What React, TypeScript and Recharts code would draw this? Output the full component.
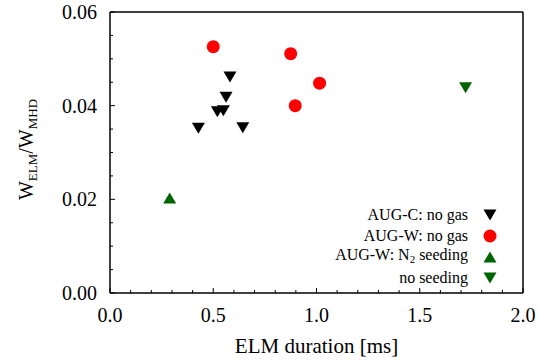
import React from 'react'
import { ScatterChart, Scatter, XAxis, YAxis, Legend, Label } from 'recharts'

// ELM duration [ms] vs W_ELM/W_MHD
const augCDuration = [0.581, 0.562, 0.52, 0.549, 0.428, 0.643]
const augCRatio = [0.0461, 0.0418, 0.0387, 0.0389, 0.0352, 0.0353]

const augWDuration = [0.5, 0.875, 1.015, 0.897]
const augWRatio = [0.0526, 0.0511, 0.0448, 0.04]

const n2SeedDuration = [0.289]
const n2SeedRatio = [0.0203]

const noSeedDuration = [1.722]
const noSeedRatio = [0.0438]

const xTicks = [0, 0.1, 0.2, 0.3, 0.4, 0.5, 0.6, 0.7, 0.8, 0.9, 1, 1.1, 1.2, 1.3, 1.4, 1.5, 1.6, 1.7, 1.8, 1.9, 2]
const xMajor = [0, 0.5, 1, 1.5, 2]
const yTicks = [0, 0.005, 0.01, 0.015, 0.02, 0.025, 0.03, 0.035, 0.04, 0.045, 0.05, 0.055, 0.06]
const yMajor = [0, 0.02, 0.04, 0.06]

const FONT = "'Liberation Serif', 'DejaVu Serif', serif"
const GREEN = '#006400'

const toPoints = (xs: number[], ys: number[]) => xs.map((x, i) => ({ x, y: ys[i] }))

const downTri = (cx: number, cy: number, fill: string) => (
  <path d={`M${cx - 6.5},${cy - 5.5} L${cx + 6.5},${cy - 5.5} L${cx},${cy + 5.5} Z`} fill={fill} />
)
const upTri = (cx: number, cy: number, fill: string) => (
  <path d={`M${cx - 6.5},${cy + 5.5} L${cx + 6.5},${cy + 5.5} L${cx},${cy - 5.5} Z`} fill={fill} />
)
const dot = (cx: number, cy: number, fill: string) => <circle cx={cx} cy={cy} r={6.5} fill={fill} />

const legendRows = [
  { label: <>AUG-C: no gas</>, marker: downTri, color: '#000' },
  { label: <>AUG-W: no gas</>, marker: dot, color: '#ff0000' },
  { label: <>AUG-W: N<sub style={{ fontSize: 11, verticalAlign: -3 }}>2</sub> seeding</>, marker: upTri, color: GREEN },
  { label: <>no seeding</>, marker: downTri, color: GREEN },
]

const txt = { fontFamily: FONT, fill: '#000' }

const isMajor = (list: number[], v: number) => list.some((m) => Math.abs(m - v) < 1e-9)

const BottomTick = (props: any) => {
  const { x, y, payload } = props
  const major = isMajor(xMajor, payload.value)
  return (
    <g>
      <line x1={x} x2={x} y1={y} y2={y - (major ? 5 : 3)} stroke="#000" strokeWidth={1} />
      {major && (
        <text x={x} y={y + 29} textAnchor="middle" style={{ ...txt, fontSize: 20 }}>
          {payload.value.toFixed(1)}
        </text>
      )}
    </g>
  )
}

const TopTick = (props: any) => {
  const { x, y, payload } = props
  const major = isMajor(xMajor, payload.value)
  return <line x1={x} x2={x} y1={y} y2={y + (major ? 5 : 3)} stroke="#000" strokeWidth={1} />
}

const LeftTick = (props: any) => {
  const { x, y, payload } = props
  const major = isMajor(yMajor, payload.value)
  return (
    <g>
      <line x1={x} x2={x + (major ? 5 : 3)} y1={y} y2={y} stroke="#000" strokeWidth={1} />
      {major && (
        <text x={x - 13} y={y + 7} textAnchor="end" style={{ ...txt, fontSize: 20 }}>
          {payload.value.toFixed(2)}
        </text>
      )}
    </g>
  )
}

const RightTick = (props: any) => {
  const { x, y, payload } = props
  const major = isMajor(yMajor, payload.value)
  return <line x1={x} x2={x - (major ? 5 : 3)} y1={y} y2={y} stroke="#000" strokeWidth={1} />
}

const YTitle = (props: any) => {
  const { viewBox } = props
  const cx = 33
  const cy = viewBox.y + viewBox.height / 2 - 3
  return (
    <text x={cx} y={cy} transform={`rotate(-90, ${cx}, ${cy})`} textAnchor="middle" style={{ ...txt, fontSize: 20 }}>
      W<tspan style={{ fontSize: 13 }} dy={4}>ELM</tspan>
      <tspan dy={-4}>/W</tspan>
      <tspan style={{ fontSize: 13 }} dy={4}>MHD</tspan>
    </text>
  )
}

const LegendBox = () => (
  <div style={{ fontFamily: FONT, fontSize: 16, color: '#000' }}>
    {legendRows.map((r, i) => (
      <div key={i} style={{ display: 'flex', alignItems: 'center', justifyContent: 'flex-end', height: 21 }}>
        <span style={{ whiteSpace: 'nowrap', lineHeight: '16px' }}>{r.label}</span>
        <svg width={14} height={14} style={{ marginLeft: 15, display: 'block' }}>
          {r.marker(7, 7, r.color)}
        </svg>
      </div>
    ))}
  </div>
)

export default function App() {
  return (
    <div style={{ position: 'absolute', left: 0, top: 0, width: 540, height: 362, background: '#fff', fontFamily: FONT }}>
      <ScatterChart width={540} height={362} margin={{ top: 0, right: 0, bottom: 0, left: 0 }} style={{ fontFamily: FONT }}>
        <XAxis
          dataKey="x"
          type="number"
          domain={[0, 2]}
          ticks={xTicks}
          interval={0}
          height={69}
          tickSize={0}
          tickMargin={0}
          tickLine={false}
          tick={<BottomTick />}
          axisLine={{ stroke: '#000', strokeWidth: 1.5 }}
        >
          <Label
            value="ELM duration [ms]"
            content={() => (
              <text x={316.5} y={353} textAnchor="middle" style={{ ...txt, fontSize: 21 }}>
                ELM duration [ms]
              </text>
            )}
          />
        </XAxis>
        <XAxis
          xAxisId="top"
          orientation="top"
          type="number"
          domain={[0, 2]}
          ticks={xTicks}
          interval={0}
          height={12}
          tickSize={0}
          tickMargin={0}
          tickLine={false}
          tick={<TopTick />}
          axisLine={{ stroke: '#000', strokeWidth: 1.5 }}
        />
        <YAxis
          dataKey="y"
          type="number"
          domain={[0, 0.06]}
          ticks={yTicks}
          interval={0}
          width={110}
          tickSize={0}
          tickMargin={0}
          tickLine={false}
          tick={<LeftTick />}
          axisLine={{ stroke: '#000', strokeWidth: 1.5 }}
        >
          <Label content={<YTitle />} />
        </YAxis>
        <YAxis
          yAxisId="right"
          orientation="right"
          type="number"
          domain={[0, 0.06]}
          ticks={yTicks}
          interval={0}
          width={17}
          tickSize={0}
          tickMargin={0}
          tickLine={false}
          tick={<RightTick />}
          axisLine={{ stroke: '#000', strokeWidth: 1.5 }}
        />
        <Legend
          layout="vertical"
          align="center"
          verticalAlign="middle"
          content={<LegendBox />}
          wrapperStyle={{ position: 'absolute', left: 290, top: 204, width: 207 }}
        />
        <Scatter
          name="AUG-C: no gas"
          data={toPoints(augCDuration, augCRatio)}
          fill="#000"
          shape={(p: any) => downTri(p.cx, p.cy, '#000')}
          isAnimationActive={false}
        />
        <Scatter
          name="AUG-W: no gas"
          data={toPoints(augWDuration, augWRatio)}
          fill="#ff0000"
          shape={(p: any) => dot(p.cx, p.cy, '#ff0000')}
          isAnimationActive={false}
        />
        <Scatter
          name="AUG-W: N2 seeding"
          data={toPoints(n2SeedDuration, n2SeedRatio)}
          fill={GREEN}
          shape={(p: any) => upTri(p.cx, p.cy, GREEN)}
          isAnimationActive={false}
        />
        <Scatter
          name="no seeding"
          data={toPoints(noSeedDuration, noSeedRatio)}
          fill={GREEN}
          shape={(p: any) => downTri(p.cx, p.cy, GREEN)}
          isAnimationActive={false}
        />
      </ScatterChart>
    </div>
  )
}
